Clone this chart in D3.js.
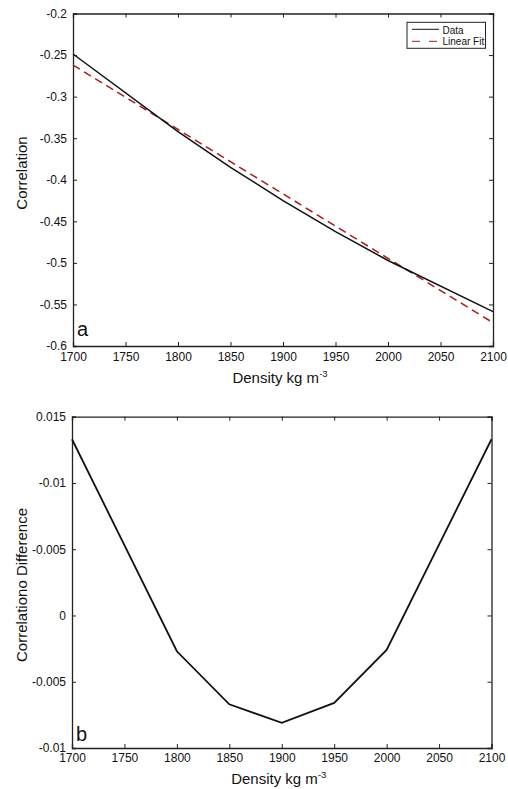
<!DOCTYPE html>
<html>
<head>
<meta charset="utf-8">
<script src="https://d3js.org/d3.v7.min.js"></script>
<style>
  html, body { margin: 0; padding: 0; background: #fff; }
  svg { display: block; font-family: "Liberation Sans", Arial, sans-serif; }
</style>
</head>
<body>
<svg id="chart" width="508" height="789"></svg>
<script>
// Density grid (kg m^-3)
const density = [1700, 1800, 1850, 1900, 1950, 2000, 2100];
// Correlation against density, and its linear fit
const correlation = [-0.2487, -0.3422, -0.3850, -0.4251, -0.4624, -0.4971, -0.5587];
const linearFit = [-0.2620, -0.3395, -0.3783, -0.4170, -0.4558, -0.4945, -0.5720];
// Residual: correlation minus linear fit
const difference = [0.0133, -0.0027, -0.0067, -0.0081, -0.0066, -0.0026, 0.0133];

const xTicks = [1700, 1750, 1800, 1850, 1900, 1950, 2000, 2050, 2100];
const yTicksA = [-0.2, -0.25, -0.3, -0.35, -0.4, -0.45, -0.5, -0.55, -0.6];
const yTickLabelsA = ["-0.2", "-0.25", "-0.3", "-0.35", "-0.4", "-0.45", "-0.5", "-0.55", "-0.6"];
const yTicksB = [0.015, 0.01, 0.005, 0, -0.005, -0.01];
const yTickLabelsB = ["0.015", "-0.01", "-0.005", "0", "-0.005", "-0.01"];

const svg = d3.select("#chart");

function panel(opts) {
  const { left, right, top, bottom, yDomain, yTicks, yLabels, yTitle, yTitleCenter,
          xTickBase, xTitleBase, letter, letterBase } = opts;
  const x = d3.scaleLinear().domain([1700, 2100]).range([left, right]);
  const y = d3.scaleLinear().domain(yDomain).range([bottom, top]);
  const g = svg.append("g");
  const tickLen = 4;

  // inward ticks on all four sides
  const axes = [
    { ax: d3.axisBottom(x).tickValues(xTicks).tickFormat(d => d), t: `translate(0,${bottom})`, kind: "bottom" },
    { ax: d3.axisTop(x).tickValues(xTicks).tickFormat(""), t: `translate(0,${top})` },
    { ax: d3.axisLeft(y).tickValues(yTicks).tickFormat((d, i) => yLabels[i]), t: `translate(${left},0)`, kind: "left" },
    { ax: d3.axisRight(y).tickValues(yTicks).tickFormat(""), t: `translate(${right},0)` }
  ];
  axes.forEach(a => {
    const ag = g.append("g").attr("transform", a.t)
      .call(a.ax.tickSize(-tickLen).tickPadding(6));
    ag.select(".domain").attr("stroke", "#222").attr("stroke-width", 1.3);
    ag.selectAll(".tick line").attr("stroke", "#222").attr("stroke-width", 1);
    const tt = ag.selectAll(".tick text").attr("font-size", 12).attr("fill", "#111")
      .attr("font-family", "Liberation Sans, Arial, sans-serif");
    if (a.kind === "bottom") tt.attr("dy", null).attr("y", xTickBase - bottom);
    if (a.kind === "left") tt.attr("x", -6);
  });

  g.append("text")
    .attr("x", (left + right) / 2 - 3).attr("y", xTitleBase)
    .attr("text-anchor", "middle").attr("font-size", 15).attr("fill", "#111")
    .html('Density kg m<tspan dy="-6" font-size="9.5">-3</tspan>');

  g.append("text")
    .attr("transform", `translate(27,${yTitleCenter}) rotate(-90)`)
    .attr("text-anchor", "middle").attr("font-size", 15).attr("fill", "#111")
    .text(yTitle);

  g.append("text")
    .attr("x", left + 4).attr("y", letterBase)
    .attr("font-size", 20).attr("fill", "#111")
    .text(letter);

  return { x, y, g };
}

// Panel a: correlation vs density
const a = panel({ left: 73, right: 493, top: 13.5, bottom: 346, yDomain: [-0.6, -0.2],
  yTicks: yTicksA, yLabels: yTickLabelsA, yTitle: "Correlation", yTitleCenter: 173,
  xTickBase: 360.5, xTitleBase: 382.5, letter: "a", letterBase: 336 });

const lineA = (vals) => d3.line().x((d, i) => a.x(density[i])).y(d => a.y(d))(vals);

a.g.append("path").attr("d", lineA(linearFit))
  .attr("fill", "none").attr("stroke", "#a81c1c").attr("stroke-width", 1.5)
  .attr("stroke-dasharray", "8,5");
a.g.append("path").attr("d", lineA(correlation))
  .attr("fill", "none").attr("stroke", "#111").attr("stroke-width", 1.5);

// legend
const lg = a.g.append("g").attr("transform", "translate(407,22.3)");
lg.append("rect").attr("width", 78.5).attr("height", 26)
  .attr("fill", "#fff").attr("stroke", "#222").attr("stroke-width", 1);
lg.append("line").attr("x1", 5).attr("x2", 32).attr("y1", 7).attr("y2", 7)
  .attr("stroke", "#111").attr("stroke-width", 1);
lg.append("line").attr("x1", 5).attr("x2", 32).attr("y1", 19).attr("y2", 19)
  .attr("stroke", "#a81c1c").attr("stroke-width", 1).attr("stroke-dasharray", "8,9");
lg.append("text").attr("x", 35.5).attr("y", 11.5).attr("font-size", 10).attr("fill", "#111").text("Data");
lg.append("text").attr("x", 35.5).attr("y", 22.5).attr("font-size", 10).attr("fill", "#111").text("Linear Fit");

// Panel b: residual of the linear fit
const b = panel({ left: 72, right: 491.5, top: 416.7, bottom: 748, yDomain: [-0.01, 0.015],
  yTicks: yTicksB, yLabels: yTickLabelsB, yTitle: "Correlationo Difference", yTitleCenter: 585,
  xTickBase: 762, xTitleBase: 783.5, letter: "b", letterBase: 741 });

b.g.append("path")
  .attr("d", d3.line().x((d, i) => b.x(density[i])).y(d => b.y(d))(difference))
  .attr("fill", "none").attr("stroke", "#111").attr("stroke-width", 1.8);
</script>
</body>
</html>
